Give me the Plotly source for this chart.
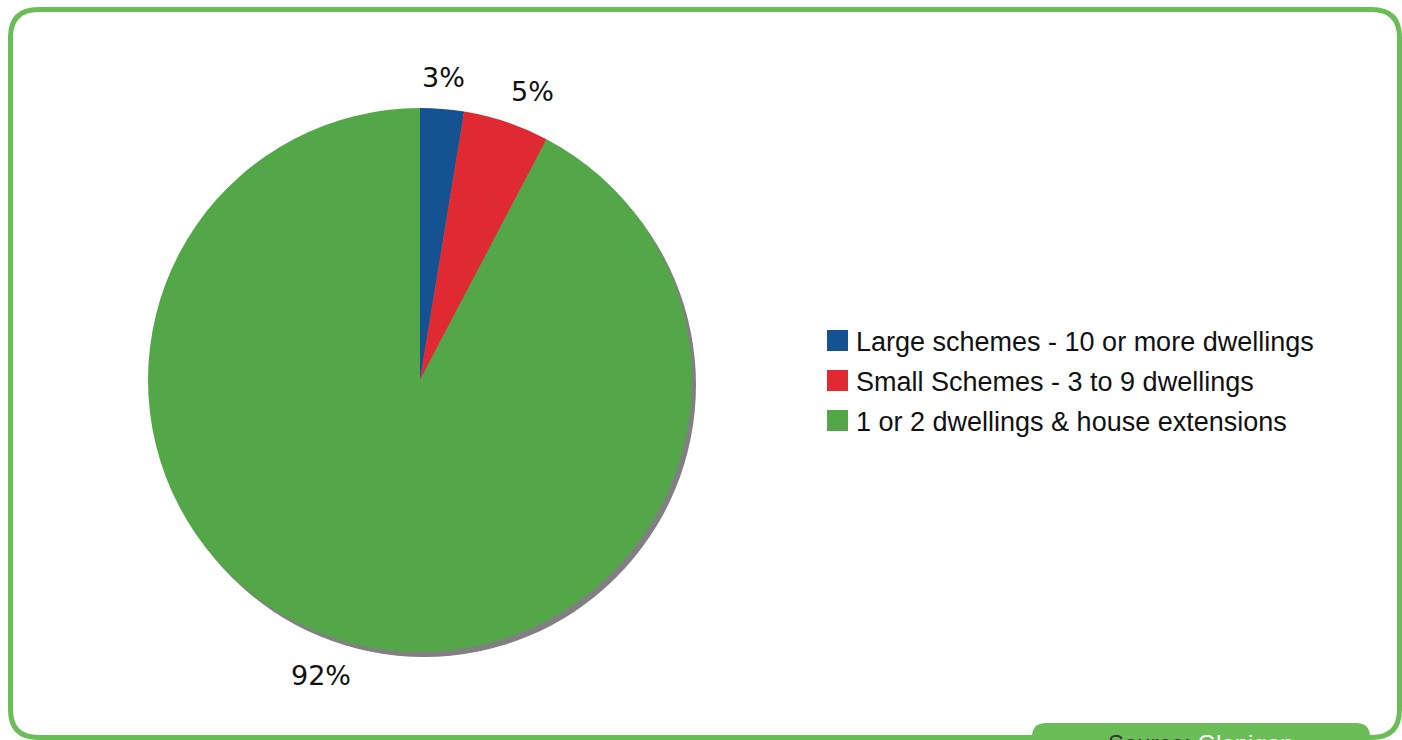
import math
import plotly.graph_objects as go

# ---- data ----
labels = ["Large schemes - 10 or more dwellings",
          "Small Schemes - 3 to 9 dwellings",
          "1 or 2 dwellings & house extensions"]
shares = [2.6, 5.1, 92.3]
colors = ["#155292", "#e02a33", "#53a748"]
source_label = "Source:"
source_name = "Glenigan"

W, H = 1402, 740


def px(x):
    return x / W


def py(y):
    return 1 - y / H


def rounded_rect(x0, y0, x1, y1, r):
    pts = [
        f"M{px(x0 + r)},{py(y0)}",
        f"L{px(x1 - r)},{py(y0)}",
        f"Q{px(x1)},{py(y0)} {px(x1)},{py(y0 + r)}",
        f"L{px(x1)},{py(y1 - r)}",
        f"Q{px(x1)},{py(y1)} {px(x1 - r)},{py(y1)}",
        f"L{px(x0 + r)},{py(y1)}",
        f"Q{px(x0)},{py(y1)} {px(x0)},{py(y1 - r)}",
        f"L{px(x0)},{py(y0 + r)}",
        f"Q{px(x0)},{py(y0)} {px(x0 + r)},{py(y0)}",
        "Z",
    ]
    return " ".join(pts)


# pie geometry (pixels)
cx, cy, R = 420, 380, 272

fig = go.Figure()
fig.add_trace(go.Pie(
    labels=labels,
    values=shares,
    marker=dict(colors=colors, line=dict(width=0)),
    sort=False,
    direction="clockwise",
    rotation=0,
    textinfo="none",
    hoverinfo="label+percent",
    showlegend=False,
    domain=dict(x=[px(cx - R), px(cx + R)], y=[py(cy + R), py(cy - R)]),
))

shapes = []
annotations = []

# frame
shapes.append(dict(type="path", xref="paper", yref="paper",
                   path=rounded_rect(10.5, 9.5, 1399.5, 737.5, 28),
                   line=dict(color="#6bbd57", width=5), fillcolor="rgba(0,0,0,0)",
                   layer="below"))
# pie shadow
shapes.append(dict(type="circle", xref="paper", yref="paper",
                   x0=px(cx - R + 4), x1=px(cx + R + 4),
                   y0=py(cy + R + 5), y1=py(cy - R + 5),
                   fillcolor="#808080", line=dict(width=0), layer="below"))

# percentage labels outside the slices (positions derived from the shares)
total = sum(shares)
cum = 0.0
for v in shares:
    mid = (cum + v / 2) / total * 2 * math.pi
    cum += v
    s, c = math.sin(mid), math.cos(mid)
    lx = cx + 380 * s - 8
    ly = cy - 304 * c
    annotations.append(dict(xref="paper", yref="paper", x=px(lx), y=py(ly),
                            xanchor="center", yanchor="middle", showarrow=False,
                            text=f"{round(v / total * 100)}%",
                            font=dict(family="DejaVu Sans", size=27, color="#111111")))

# source tab
shapes.append(dict(type="path", xref="paper", yref="paper",
                   path=rounded_rect(1032, 723, 1370, 775, 14),
                   fillcolor="#6bbd57", line=dict(width=0), layer="above"))

# legend (manual, larger swatches)
for i, (lab, col) in enumerate(zip(labels, colors)):
    yc = 340.5 + 40 * i
    shapes.append(dict(type="rect", xref="paper", yref="paper",
                       x0=px(827), x1=px(848), y0=py(yc + 10.5), y1=py(yc - 10.5),
                       fillcolor=col, line=dict(width=0)))
    annotations.append(dict(xref="paper", yref="paper", x=px(854), y=py(yc + 1),
                            xanchor="left", yanchor="middle", showarrow=False,
                            text=lab,
                            font=dict(family="Liberation Sans", size=27, color="#111111")))

annotations.append(dict(xref="paper", yref="paper", x=px(1200), y=py(743),
                        xanchor="center", yanchor="middle", showarrow=False,
                        text=f"<span style='color:#333333'>{source_label}</span> {source_name}",
                        font=dict(family="Liberation Sans", size=24, color="#ffffff")))

fig.update_layout(
    width=W, height=H,
    margin=dict(l=0, r=0, t=0, b=0),
    paper_bgcolor="white",
    plot_bgcolor="white",
    shapes=shapes,
    annotations=annotations,
)

fig.write_html("out.html")
